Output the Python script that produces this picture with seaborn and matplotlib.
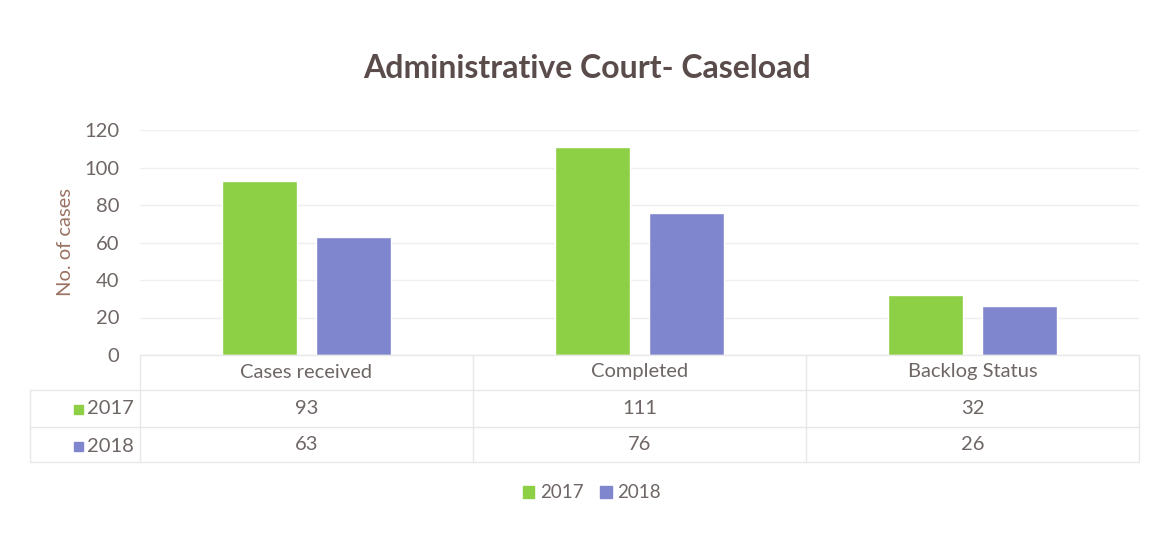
import matplotlib
matplotlib.use("Agg")
import matplotlib.pyplot as plt
from matplotlib.transforms import blended_transform_factory
from matplotlib.patches import Rectangle
import seaborn as sns
import pandas as pd

# Caseload figures
categories = ["Cases received", "Completed", "Backlog Status"]
years = ["2017", "2018"]
cases_2017 = [93, 111, 32]
cases_2018 = [63, 76, 26]
y_ticks = [0, 20, 40, 60, 80, 100, 120]

colors = {"2017": "#8DCF45", "2018": "#7F86CE"}
text_grey = "#6e6664"
fs = 14.5

df = pd.DataFrame({
    "category": categories * 2,
    "year": [years[0]] * 3 + [years[1]] * 3,
    "cases": cases_2017 + cases_2018,
})

sns.set_theme(style="white")
plt.rcParams["font.family"] = ["Lato", "DejaVu Sans"]

W, H = 1159, 542
fig = plt.figure(figsize=(W / 100, H / 100), dpi=100)
fig.patch.set_facecolor("white")

def fx(px):
    return px / W

def fy(py):
    return 1 - py / H

ax_left, ax_right, ax_top, ax_bottom = 140, 1139, 130, 355
ax = fig.add_axes([fx(ax_left), fy(ax_bottom), fx(ax_right - ax_left), (ax_bottom - ax_top) / H])

sns.barplot(data=df, x="category", y="cases", hue="year", order=categories,
            hue_order=years, palette=colors, width=0.57, gap=0.21,
            saturation=1, legend=False, ax=ax)

ax.set_xlim(-0.5, 2.5)
ax.set_ylim(0, 120)
ax.set_yticks(y_ticks)
ax.set_yticklabels([str(t) for t in y_ticks], fontsize=fs, color=text_grey)
ax.tick_params(axis="y", length=0, pad=15)
ax.set_xticks([])
ax.set_xlabel("")
ax.set_ylabel("No. of cases", fontsize=fs, color="#9a7262", labelpad=7)
for s in ax.spines.values():
    s.set_visible(False)
ax.yaxis.grid(True, color="#efefef", linewidth=1)
ax.set_axisbelow(True)

# Data table beneath the plot
tr = blended_transform_factory(ax.transData, fig.transFigure)
line_c = "#e8e8e8"
fig.add_artist(plt.Line2D([fx(ax_left), fx(ax_right)], [fy(355)] * 2, color=line_c, lw=1))
for py in [390, 427, 462]:
    fig.add_artist(plt.Line2D([fx(30), fx(ax_right)], [fy(py)] * 2, color=line_c, lw=1))
for b in [-0.5, 0.5, 1.5, 2.5]:
    fig.add_artist(plt.Line2D([b, b], [fy(355), fy(462)], color=line_c, lw=1, transform=tr))
fig.add_artist(plt.Line2D([fx(30), fx(30)], [fy(390), fy(462)], color=line_c, lw=1))

for i, cat in enumerate(categories):
    ax.text(i, fy(372), cat, transform=tr, ha="center", va="center", fontsize=fs, color=text_grey)
    ax.text(i, fy(408), str(cases_2017[i]), transform=tr, ha="center", va="center", fontsize=fs, color=text_grey)
    ax.text(i, fy(445), str(cases_2018[i]), transform=tr, ha="center", va="center", fontsize=fs, color=text_grey)

for yr, py in zip(years, [409, 446]):
    fig.add_artist(Rectangle((fx(74), fy(py + 5)), fx(9), 9 / H, color=colors[yr], transform=fig.transFigure))
    fig.text(fx(87), fy(py), yr, ha="left", va="center", fontsize=fs, color=text_grey)

# Legend
handles = [Rectangle((0, 0), 1, 1, color=colors[y]) for y in years]
fig.legend(handles, years, loc="center", bbox_to_anchor=(fx(592), fy(493)), ncol=2,
           frameon=False, fontsize=13.5, handlelength=0.6, handleheight=0.6,
           handletextpad=0.3, columnspacing=0.9, labelcolor=text_grey)

fig.text(fx(587), fy(69), "Administrative Court- Caseload", ha="center", va="center",
         fontsize=23, fontweight="bold", color="#5b4c4c")

fig.savefig("out.png", dpi=100, facecolor="white")
